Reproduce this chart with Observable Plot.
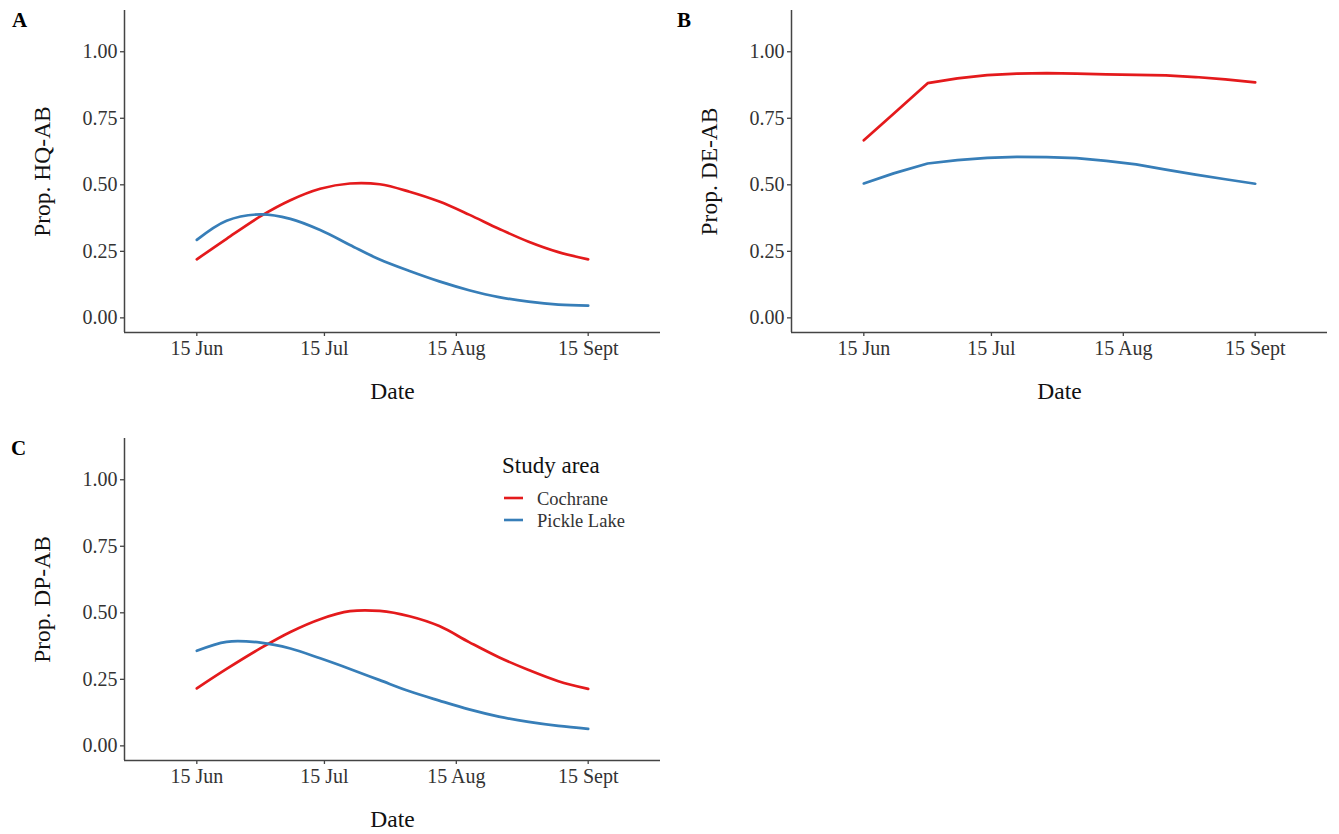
<!DOCTYPE html>
<html>
<head>
<meta charset="utf-8">
<script src="https://cdn.jsdelivr.net/npm/d3@7"></script>
<script src="https://cdn.jsdelivr.net/npm/@observablehq/plot@0.6"></script>
<style>
  html, body { margin: 0; padding: 0; background: #fff; }
  #root { position: relative; width: 1339px; height: 834px; background: #fff; overflow: hidden; }
  .panel { position: absolute; }
  #overlay { position: absolute; left: 0; top: 0; pointer-events: none; }
</style>
</head>
<body>
<div id="root"></div>
<script>
// ---- data ----
const dates = ["2023-06-15","2023-06-22","2023-06-30","2023-07-07","2023-07-14","2023-07-21","2023-07-28",
               "2023-08-04","2023-08-11","2023-08-18","2023-08-25","2023-09-01","2023-09-08","2023-09-15"];
const studyAreas = ["Cochrane", "Pickle Lake"];
const seriesColors = ["#E41A1C", "#377EB8"];

const hqCochrane = [0.220,0.297,0.382,0.442,0.485,0.505,0.502,0.474,0.437,0.388,0.335,0.286,0.247,0.220];
const hqPickle   = [0.293,0.365,0.389,0.372,0.330,0.274,0.219,0.176,0.137,0.104,0.078,0.061,0.050,0.046];
const deCochrane = [0.667,0.767,0.882,0.900,0.912,0.918,0.920,0.918,0.915,0.913,0.911,0.905,0.896,0.885];
const dePickle   = [0.505,0.543,0.580,0.593,0.601,0.605,0.604,0.600,0.590,0.577,0.557,0.538,0.521,0.504];
const dpCochrane = [0.216,0.289,0.367,0.428,0.476,0.506,0.507,0.487,0.450,0.390,0.333,0.285,0.243,0.214];
const dpPickle   = [0.357,0.391,0.388,0.366,0.329,0.289,0.247,0.205,0.170,0.137,0.110,0.090,0.075,0.064];

const yTicks = [0, 0.25, 0.5, 0.75, 1];
const xTickDates = ["2023-06-15","2023-07-15","2023-08-15","2023-09-15"];
const xTickLabels = ["15 Jun","15 Jul","15 Aug","15 Sept"];
const panelLetters = ["A","B","C"];
const yTitles = ["Prop. HQ-AB","Prop. DE-AB","Prop. DP-AB"];
const xTitle = "Date";
const legendTitle = "Study area";

// ---- layout / style ----
const xDomain = [new Date("2023-05-29"), new Date("2023-10-02")];
const yDomain = [-0.055, 1.155];
const FONT = "'Liberation Serif', 'Times New Roman', serif";
const axisColor = "#444";
const tickTextColor = "#333";
const titleColor = "#111";

const panels = [
  {left: 0,   top: 0,   title: yTitles[0], c: hqCochrane, p: hqPickle, curve: "catmull-rom"},
  {left: 667, top: 0,   title: yTitles[1], c: deCochrane, p: dePickle, curve: "linear"},
  {left: 0,   top: 428, title: yTitles[2], c: dpCochrane, p: dpPickle, curve: "catmull-rom"}
];

function rowsFor(c, p) {
  const out = [];
  dates.forEach((d, i) => {
    out.push({date: new Date(d), value: c[i], area: studyAreas[0]});
    out.push({date: new Date(d), value: p[i], area: studyAreas[1]});
  });
  return out;
}

const tickDateObjs = xTickDates.map(d => new Date(d));
const xTickFormat = d => {
  const i = tickDateObjs.findIndex(t => t.getTime() === d.getTime());
  return i >= 0 ? xTickLabels[i] : "";
};

const root = document.getElementById("root");

panels.forEach(pn => {
  const chart = Plot.plot({
    width: 669, height: 406,
    marginLeft: 124, marginRight: 9, marginTop: 10, marginBottom: 74,
    style: {fontFamily: FONT, background: "transparent", overflow: "visible"},
    x: {type: "utc", domain: xDomain},
    y: {domain: yDomain},
    color: {domain: studyAreas, range: seriesColors},
    marks: [
      Plot.axisY({ticks: yTicks, tickFormat: d3.format(".2f"), tickSize: 4, tickPadding: 3,
                  fontSize: 20, label: null, stroke: axisColor, strokeWidth: 1.3, fill: tickTextColor}),
      Plot.axisX({ticks: tickDateObjs, tickFormat: xTickFormat, tickSize: 4, tickPadding: 4,
                  fontSize: 20, label: null, stroke: axisColor, strokeWidth: 1.3, fill: tickTextColor}),
      Plot.ruleX([xDomain[0]], {stroke: axisColor, strokeWidth: 1.5}),
      Plot.ruleY([yDomain[0]], {stroke: axisColor, strokeWidth: 1.5}),
      Plot.text([pn.title], {text: d => d, frameAnchor: "left", textAnchor: "middle", lineAnchor: "middle",
                             rotate: -90, dx: -82, fontSize: 23.5, fill: titleColor}),
      Plot.text([xTitle], {text: d => d, frameAnchor: "bottom", textAnchor: "middle", dy: 66,
                           fontSize: 23.5, fill: titleColor}),
      Plot.line(rowsFor(pn.c, pn.p), {x: "date", y: "value", z: "area", stroke: "area",
                                      strokeWidth: 2.7, curve: pn.curve})
    ]
  });
  chart.classList.add("panel");
  chart.style.left = pn.left + "px";
  chart.style.top = pn.top + "px";
  root.appendChild(chart);
});

// ---- overlay: panel letters and legend ----
const ns = "http://www.w3.org/2000/svg";
const ov = document.createElementNS(ns, "svg");
ov.setAttribute("id", "overlay");
ov.setAttribute("width", 1339);
ov.setAttribute("height", 834);
ov.style.fontFamily = FONT;
root.appendChild(ov);

function addText(x, y, str, size, weight, fill) {
  const t = document.createElementNS(ns, "text");
  t.setAttribute("x", x); t.setAttribute("y", y);
  t.setAttribute("font-size", size);
  if (weight) t.setAttribute("font-weight", weight);
  t.setAttribute("fill", fill);
  t.textContent = str;
  ov.appendChild(t);
}
const letterPos = [[12, 27], [677, 27], [11, 455]];
panelLetters.forEach((L, i) => addText(letterPos[i][0], letterPos[i][1], L, 21, "bold", "#000"));

addText(502, 473, legendTitle, 23, null, titleColor);
const legendY = [498, 520];
studyAreas.forEach((a, i) => {
  const l = document.createElementNS(ns, "line");
  l.setAttribute("x1", 504); l.setAttribute("x2", 523);
  l.setAttribute("y1", legendY[i]); l.setAttribute("y2", legendY[i]);
  l.setAttribute("stroke", seriesColors[i]); l.setAttribute("stroke-width", 2.6);
  ov.appendChild(l);
  addText(537, legendY[i] + 7, a, 18.5, null, tickTextColor);
});
</script>
</body>
</html>
